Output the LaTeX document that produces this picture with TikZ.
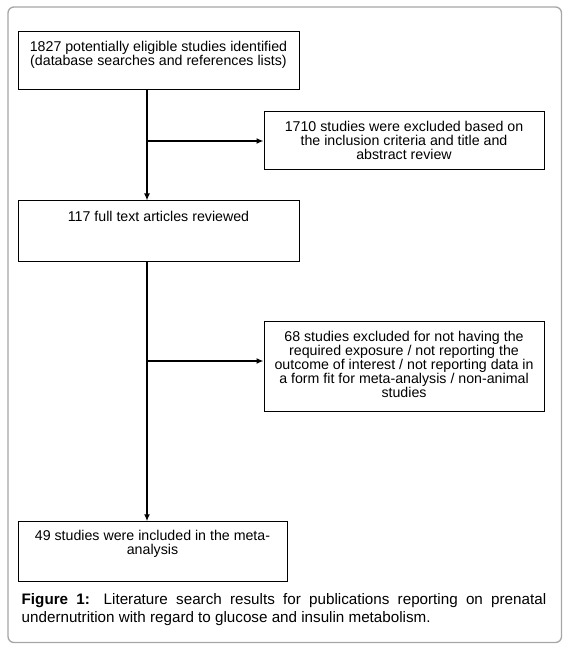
\documentclass[tikz,border=0pt]{standalone}
\usepackage{fontspec}
\setmainfont{Liberation Sans}
\usetikzlibrary{arrows.meta}
\begin{document}
\begin{tikzpicture}[x=1pt,y=-1pt,
  box/.style={draw=black,line width=1pt,inner sep=0pt,fill=none},
  txt/.style={inner sep=0pt,anchor=north,align=center,font=\fontsize{14.2}{14}\selectfont},
  conn/.style={line width=2pt,-{Latex[length=7pt,width=6pt]}},
  frame/.style={draw=black!35,line width=1.3pt,rounded corners=6pt}]
\useasboundingbox (0,0) rectangle (570,652);
\draw[frame] (8,7) rectangle (561.5,642.5);
% boxes
\node[box,minimum width=281pt,minimum height=58pt] (b1) at (158.5,61) {};
\node[box,minimum width=280pt,minimum height=58pt] (b2) at (404,141) {};
\node[box,minimum width=281pt,minimum height=60pt] (b3) at (158.5,231) {};
\node[box,minimum width=280pt,minimum height=89.5pt] (b4) at (404,366.5) {};
\node[box,minimum width=269pt,minimum height=59.5pt] (b5) at (152.5,551.5) {};
% texts
\node[txt] (t1) at (158.5,41.2) {1827 potentially eligible studies identified\\(database searches and references lists)};
\node[txt] (t2) at (404,120.7) {1710 studies were excluded based on\\the inclusion criteria and title and\\abstract review};
\node[txt] (t3) at (158.5,210.7) {117 full text articles reviewed};
\node[txt] (t4) at (404,330.7) {68 studies excluded for not having the\\required exposure / not reporting the\\outcome of interest / not reporting data in\\a form fit for meta-analysis / non-animal\\studies};
\node[txt] (t5) at (152.5,530.4) {49 studies were included in the meta-\\analysis};
% connectors
\coordinate (trunk) at (147,0);
\coordinate (j2) at (147,361);
\draw[conn] (b1.south -| trunk) -- (b3.north -| trunk);
\draw[conn] (b2.west -| trunk) -- (b2.west);
\draw[conn] (b3.south -| trunk) -- (b5.north -| trunk);
\draw[conn] (j2) -- (j2 -| b4.west);
% caption
\node[inner sep=0pt,anchor=north west,text width=524.5pt,align=justify,
  font=\fontsize{15.2}{18}\selectfont] (cap) at (21.5,593)
  {\textbf{Figure 1:} Literature search results for publications reporting on prenatal\linebreak \mbox{undernutrition} with regard to glucose and insulin metabolism.};
\end{tikzpicture}
\end{document}
